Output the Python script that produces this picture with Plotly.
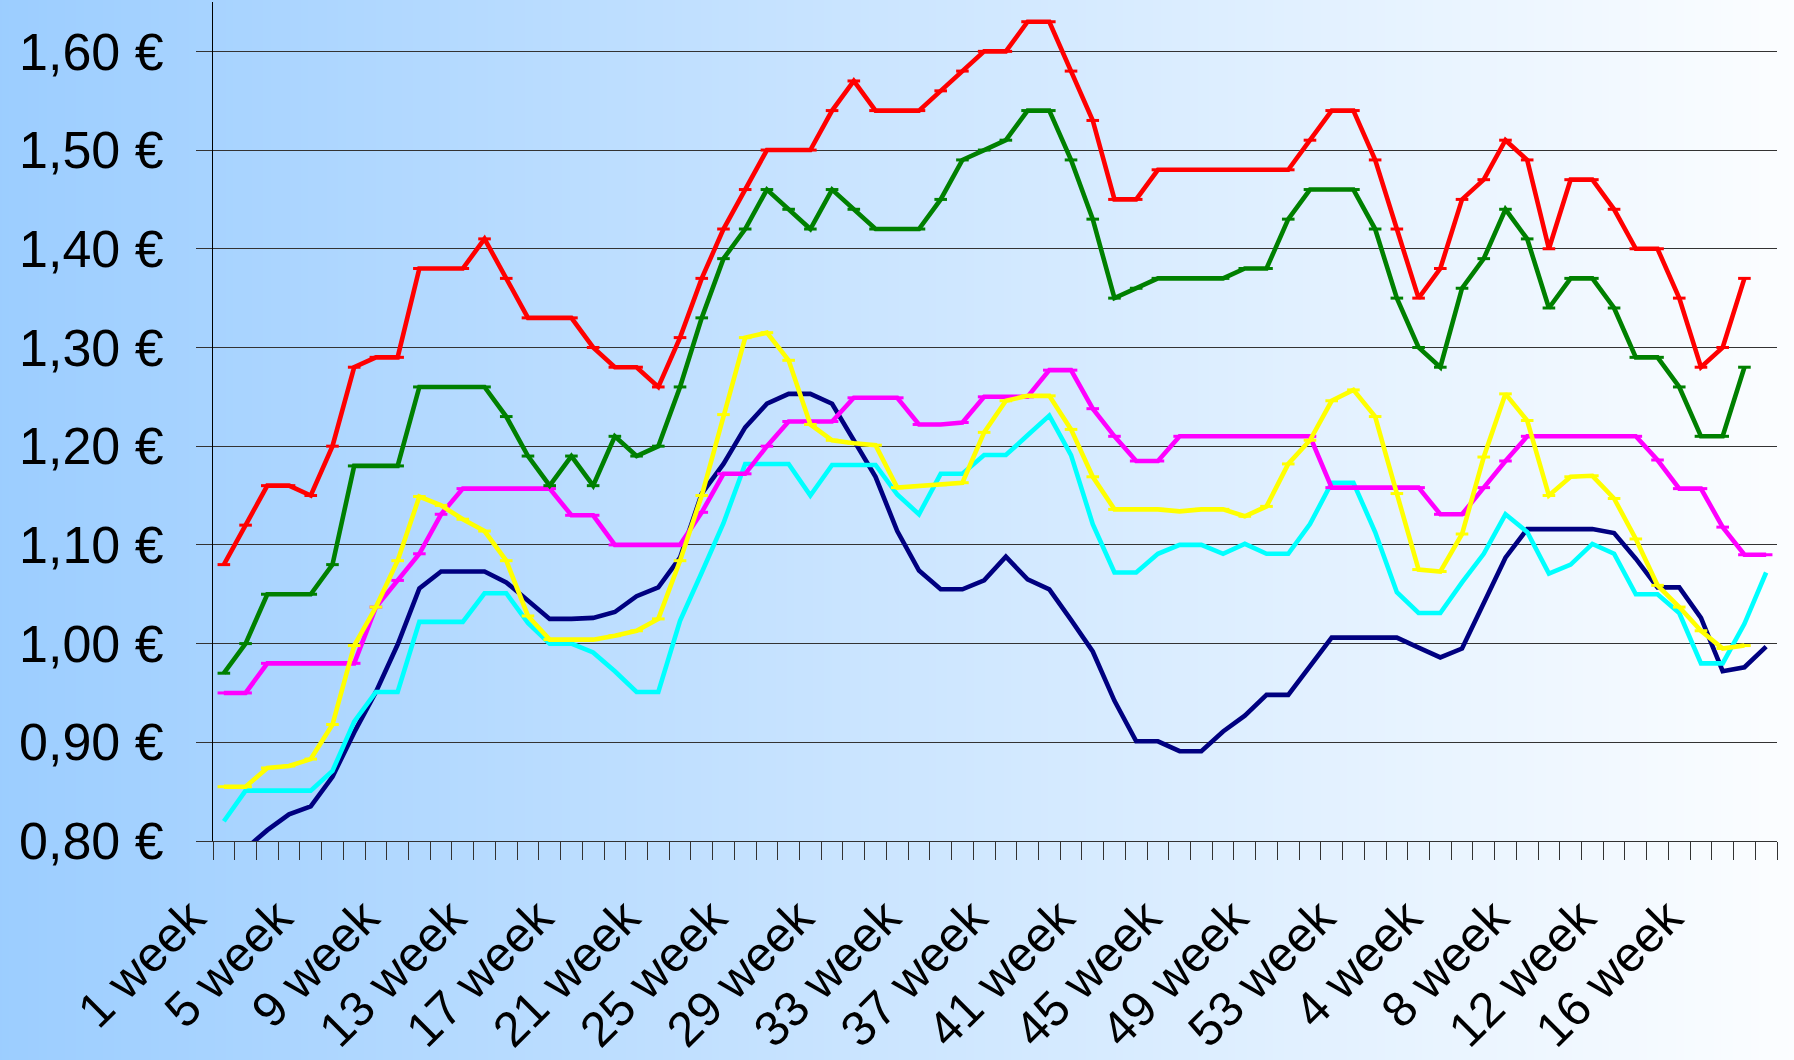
import base64
import struct
import zlib

import plotly.graph_objects as go

# Week categories: weeks 1-53 of the first year followed by weeks 1-19 of the next
weeks = [f"{w} week" for w in range(1, 54)] + [f"{w} week" for w in range(1, 20)]
label_every = 4

# Weekly prices (EUR) per series
red = [1.08, 1.12, 1.16, 1.16, 1.15, 1.20, 1.28, 1.29, 1.29, 1.38,
       1.38, 1.38, 1.41, 1.37, 1.33, 1.33, 1.33, 1.30, 1.28, 1.28,
       1.26, 1.31, 1.37, 1.42, 1.46, 1.50, 1.50, 1.50, 1.54, 1.57,
       1.54, 1.54, 1.54, 1.56, 1.58, 1.60, 1.60, 1.63, 1.63, 1.58,
       1.53, 1.45, 1.45, 1.48, 1.48, 1.48, 1.48, 1.48, 1.48, 1.48,
       1.51, 1.54, 1.54, 1.49, 1.42, 1.35, 1.38, 1.45, 1.47, 1.51,
       1.49, 1.40, 1.47, 1.47, 1.44, 1.40, 1.40, 1.35, 1.28, 1.30,
       1.37, None]

green = [0.97, 1.00, 1.05, 1.05, 1.05, 1.08, 1.18, 1.18, 1.18, 1.26,
         1.26, 1.26, 1.26, 1.23, 1.19, 1.16, 1.19, 1.16, 1.21, 1.19,
         1.20, 1.26, 1.33, 1.39, 1.42, 1.46, 1.44, 1.42, 1.46, 1.44,
         1.42, 1.42, 1.42, 1.45, 1.49, 1.50, 1.51, 1.54, 1.54, 1.49,
         1.43, 1.35, 1.36, 1.37, 1.37, 1.37, 1.37, 1.38, 1.38, 1.43,
         1.46, 1.46, 1.46, 1.42, 1.35, 1.30, 1.28, 1.36, 1.39, 1.44,
         1.41, 1.34, 1.37, 1.37, 1.34, 1.29, 1.29, 1.26, 1.21, 1.21,
         1.28, None]

magenta = [0.95, 0.95, 0.98, 0.98, 0.98, 0.98, 0.98, 1.037, 1.064, 1.091,
           1.131, 1.157, 1.157, 1.157, 1.157, 1.157, 1.13, 1.13, 1.10, 1.10,
           1.10, 1.10, 1.133, 1.172, 1.172, 1.20, 1.225, 1.225, 1.225, 1.249,
           1.249, 1.249, 1.222, 1.222, 1.224, 1.25, 1.25, 1.25, 1.277, 1.277,
           1.238, 1.21, 1.185, 1.185, 1.21, 1.21, 1.21, 1.21, 1.21, 1.21,
           1.21, 1.158, 1.158, 1.158, 1.158, 1.158, 1.131, 1.131, 1.158, 1.185,
           1.21, 1.21, 1.21, 1.21, 1.21, 1.21, 1.186, 1.157, 1.157, 1.118,
           1.09, 1.09]

yellow = [0.855, 0.855, 0.874, 0.876, 0.883, 0.918, 0.998, 1.037, 1.084, 1.149,
          1.140, 1.126, 1.114, 1.084, 1.028, 1.004, 1.004, 1.004, 1.008, 1.013,
          1.025, 1.084, 1.150, 1.232, 1.310, 1.315, 1.287, 1.222, 1.206, 1.203,
          1.201, 1.158, 1.160, 1.161, 1.163, 1.214, 1.246, 1.251, 1.251, 1.217,
          1.169, 1.136, 1.136, 1.136, 1.134, 1.136, 1.136, 1.129, 1.139, 1.182,
          1.206, 1.246, 1.257, 1.230, 1.152, 1.075, 1.073, 1.111, 1.189, 1.253,
          1.226, 1.150, 1.169, 1.170, 1.147, 1.106, 1.059, 1.037, 1.013, 0.995,
          0.998, None]

cyan = [0.820, 0.851, 0.851, 0.851, 0.851, 0.871, 0.921, 0.951, 0.951, 1.022,
        1.022, 1.022, 1.051, 1.051, 1.021, 1.000, 1.000, 0.991, 0.972, 0.951,
        0.951, 1.023, 1.072, 1.122, 1.182, 1.182, 1.182, 1.150, 1.181, 1.181,
        1.181, 1.151, 1.131, 1.172, 1.172, 1.191, 1.191, 1.211, 1.231, 1.191,
        1.121, 1.072, 1.072, 1.091, 1.100, 1.100, 1.091, 1.101, 1.091, 1.091,
        1.121, 1.163, 1.163, 1.113, 1.052, 1.031, 1.031, 1.062, 1.091, 1.131,
        1.113, 1.071, 1.080, 1.101, 1.091, 1.050, 1.050, 1.031, 0.980, 0.980,
        1.020, 1.072]

navy = [0.780, 0.792, 0.811, 0.827, 0.835, 0.865, 0.910, 0.951, 0.999, 1.056,
        1.073, 1.073, 1.073, 1.062, 1.043, 1.025, 1.025, 1.026, 1.032, 1.048,
        1.057, 1.087, 1.152, 1.182, 1.219, 1.243, 1.253, 1.253, 1.243, 1.206,
        1.169, 1.114, 1.074, 1.055, 1.055, 1.064, 1.088, 1.065, 1.055, 1.024,
        0.992, 0.942, 0.901, 0.901, 0.891, 0.891, 0.911, 0.927, 0.948, 0.948,
        0.977, 1.006, 1.006, 1.006, 1.006, 0.996, 0.986, 0.995, 1.040, 1.087,
        1.116, 1.116, 1.116, 1.116, 1.112, 1.086, 1.057, 1.057, 1.026, 0.972,
        0.976, 0.997]

y_ticks = [0.80, 0.90, 1.00, 1.10, 1.20, 1.30, 1.40, 1.50, 1.60]
y_ticktext = [f"{v:.2f}".replace(".", ",") + " €" for v in y_ticks]

# Figure geometry
W, H = 1794, 1060
M_L, M_R, M_T, M_B = 213, 17, 2, 219
plot_w = W - M_L - M_R
plot_h = H - M_T - M_B
BLEED = 60  # background image overshoot on every side, in px


def gradient_png(c0, c1, width=512, height=2):
    """Horizontal linear gradient as a base64 PNG data URI."""
    rows = b""
    for _ in range(height):
        row = b"\x00"
        for i in range(width):
            t = i / (width - 1)
            row += bytes(round(a + (b - a) * t) for a, b in zip(c0, c1))
        rows += row

    def chunk(tag, data):
        c = tag + data
        return struct.pack(">I", len(data)) + c + struct.pack(">I", zlib.crc32(c) & 0xFFFFFFFF)

    png = b"\x89PNG\r\n\x1a\n"
    png += chunk(b"IHDR", struct.pack(">IIBBBBB", width, height, 8, 2, 0, 0, 0))
    png += chunk(b"IDAT", zlib.compress(rows, 9))
    png += chunk(b"IEND", b"")
    return "data:image/png;base64," + base64.b64encode(png).decode()


x = list(range(len(weeks)))

series = [
    ("navy", navy, "#000080", False),
    ("cyan", cyan, "#00FFFF", False),
    ("magenta", magenta, "#FF00FF", True),
    ("yellow", yellow, "#FFFF00", True),
    ("green", green, "#008000", True),
    ("red", red, "#FF0000", True),
]

fig = go.Figure()
for name, values, color, dashes in series:
    fig.add_trace(go.Scatter(
        x=x, y=values, name=name,
        mode="lines+markers" if dashes else "lines",
        line=dict(color=color, width=4.6),
        marker=dict(symbol="line-ew", size=9, line=dict(color=color, width=3)),
        connectgaps=False,
    ))

y_font = dict(family="Liberation Sans, Arial, sans-serif", size=52, color="black")
x_font = dict(family="Liberation Sans, Arial, sans-serif", size=49, color="black")

fig.update_layout(
    width=W, height=H,
    margin=dict(l=M_L, r=M_R, t=M_T, b=M_B, pad=0, autoexpand=False),
    paper_bgcolor="#99CCFF",
    plot_bgcolor="rgba(0,0,0,0)",
    showlegend=False,
    font=y_font,
    images=[dict(
        source=gradient_png((153, 204, 255), (255, 255, 255)),
        xref="paper", yref="paper",
        x=-(M_L + BLEED) / plot_w, y=1 + (M_T + BLEED) / plot_h,
        sizex=(W + 2 * BLEED) / plot_w, sizey=(H + 2 * BLEED) / plot_h,
        xanchor="left", yanchor="top",
        sizing="stretch", layer="below",
    )],
)

fig.update_xaxes(
    automargin=False,
    range=[-0.5, len(weeks) - 0.5],
    tickmode="array",
    tickvals=x[::label_every],
    ticktext=weeks[::label_every],
    tickangle=-45,
    ticks="",
    ticklabelstandoff=27,
    ticklabelshift=-33,
    tickfont=x_font,
    showgrid=False,
    zeroline=False,
    showline=True, linecolor="#333333", linewidth=1.3,
    minor=dict(tickmode="linear", tick0=-0.5, dtick=1, ticks="outside",
               ticklen=18, tickwidth=1, tickcolor="#333333", showgrid=False),
)

fig.update_yaxes(
    automargin=False,
    range=[0.80, 1.65],
    tickmode="array",
    tickvals=y_ticks,
    ticktext=y_ticktext,
    ticks="outside", ticklen=16, tickwidth=1.3, tickcolor="#333333",
    ticklabelstandoff=22,
    tickfont=y_font,
    showgrid=True, gridcolor="#333333", gridwidth=1.3,
    zeroline=False,
    showline=True, linecolor="black", linewidth=1,
)

fig.write_html("out.html")
